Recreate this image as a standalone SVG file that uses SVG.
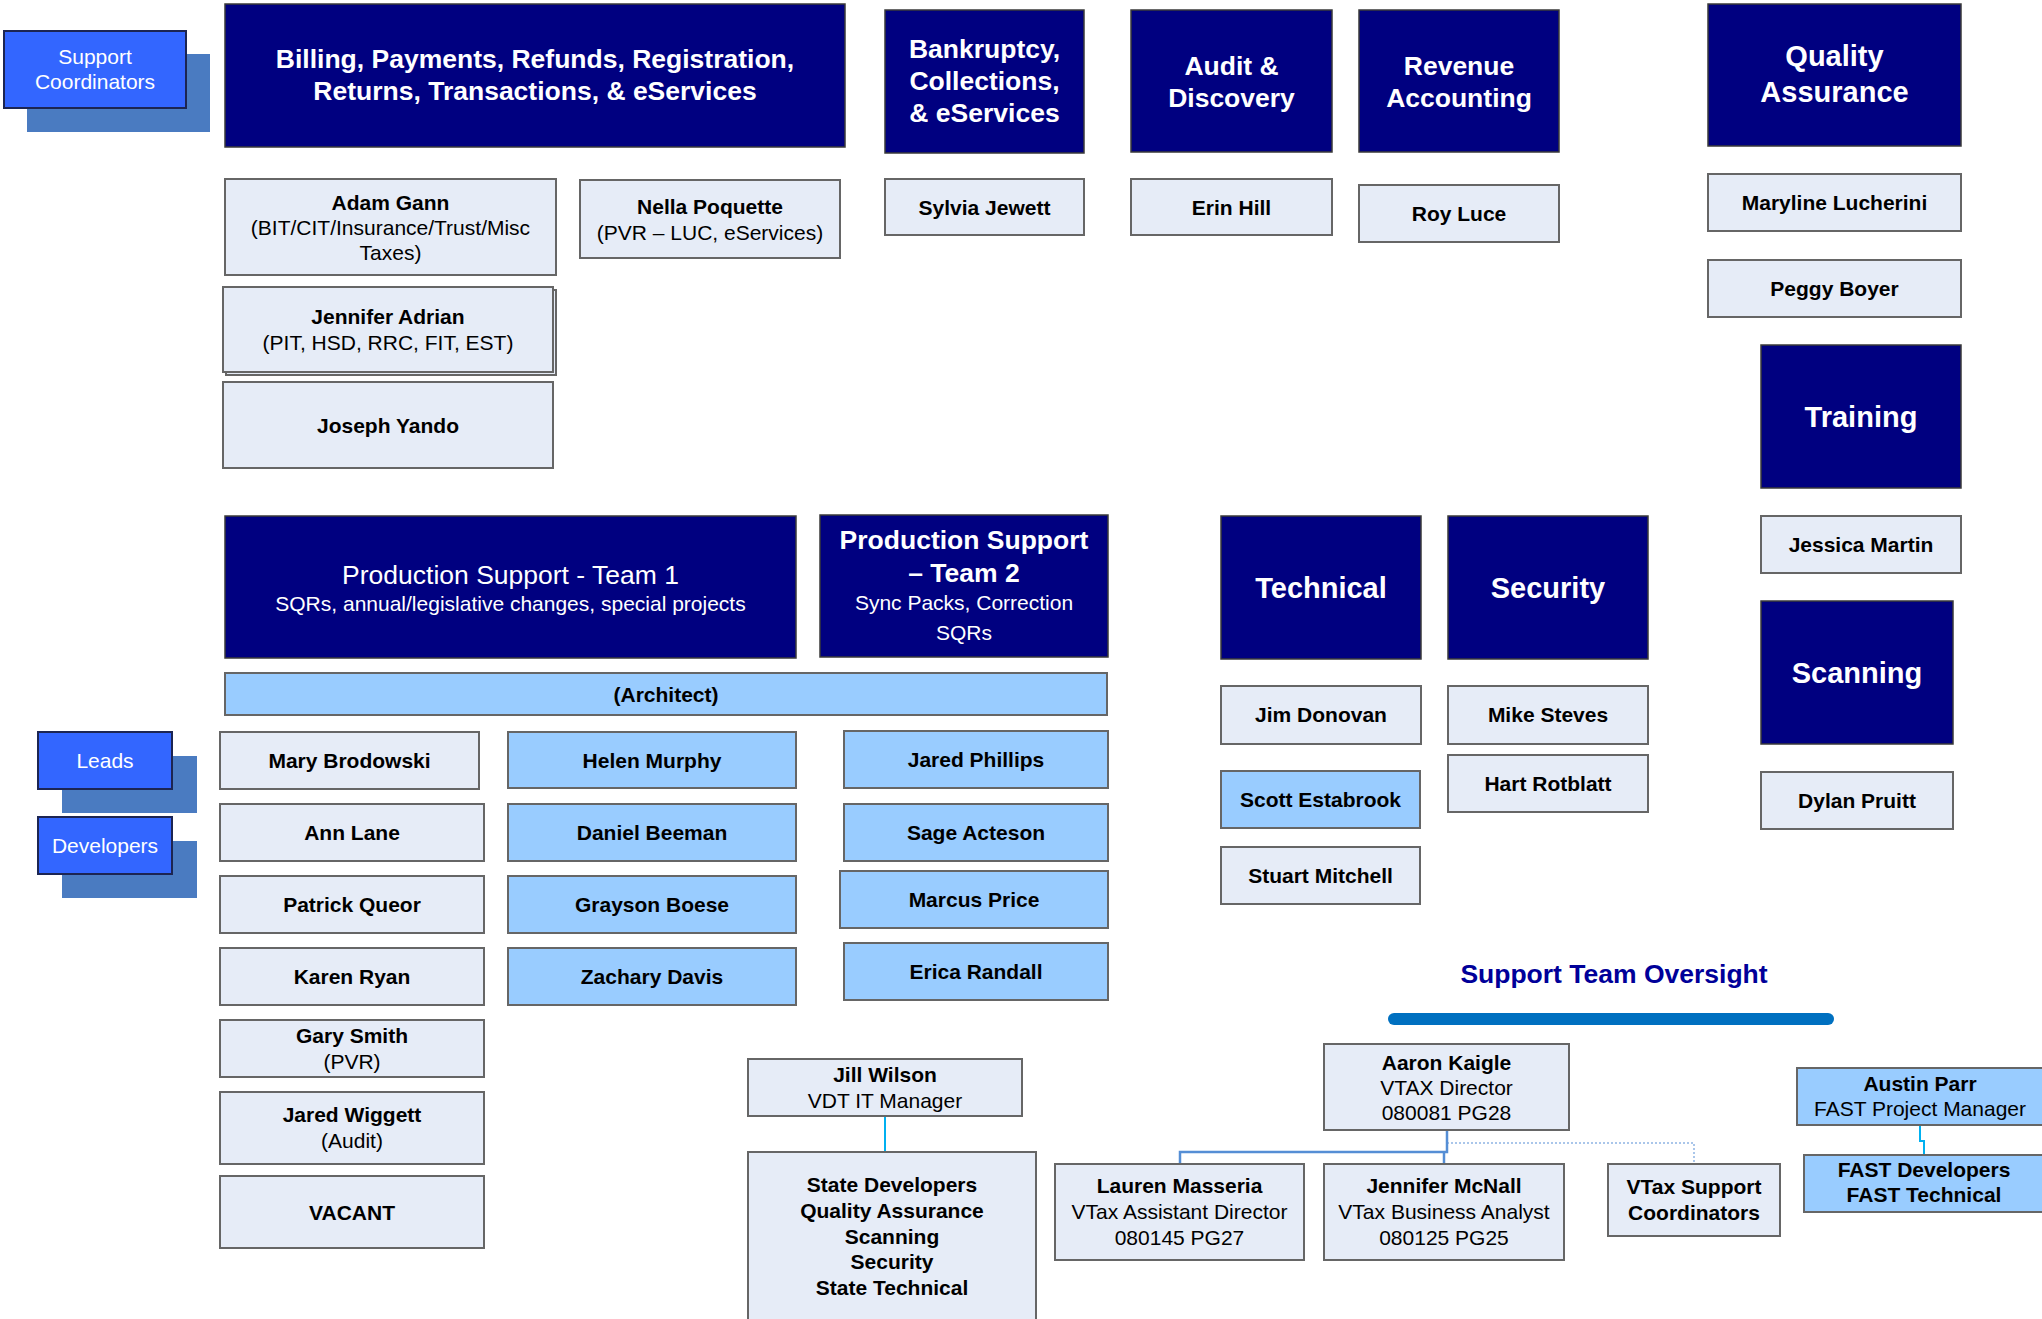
<svg xmlns="http://www.w3.org/2000/svg" width="2042" height="1319" viewBox="0 0 2042 1319">
<style>
.bg{fill:#ffffff}
.navy{fill:#000080;stroke:#3a3a3a;stroke-width:1.5}
.lt{fill:#E6ECF7;stroke:#666;stroke-width:2}
.lb{fill:#99CCFF;stroke:#666;stroke-width:2}
.coord{fill:#3366FF;stroke:#1c2552;stroke-width:2}
.shadow{fill:#4A7BC1}
text{font-family:"Liberation Sans",Arial,sans-serif;text-anchor:middle}
.h{font-size:26.5px;font-weight:bold;fill:#fff}
.h2{font-size:29px;font-weight:bold;fill:#fff}
.hr{font-size:26.5px;fill:#fff}
.w{font-size:21px;fill:#fff}
.n{font-size:21px;font-weight:bold;fill:#000}
.r{font-size:21px;fill:#000}
.title{font-size:26.5px;font-weight:bold;fill:#000099}
.cy{fill:none;stroke:#00B0F0;stroke-width:2}
.md{fill:none;stroke:#558ED5;stroke-width:2.5}
.dt{fill:none;stroke:#8EB4E3;stroke-width:1.5;stroke-dasharray:2 2}
</style>
<rect class="bg" x="0" y="0" width="2042" height="1319"/>

<g id="support-coordinators">
<rect class="shadow" x="27" y="54" width="183" height="78"/>
<rect class="coord" x="4" y="31" width="182" height="77"/>
<text class="w" x="95" y="64">Support</text>
<text class="w" x="95" y="89">Coordinators</text>
</g>

<g id="billing">
<rect class="navy" x="225" y="4" width="620" height="143"/>
<text class="h" x="535" y="67.5">Billing, Payments, Refunds, Registration,</text>
<text class="h" x="535" y="99.5">Returns, Transactions, &amp; eServices</text>
</g>
<g id="bankruptcy">
<rect class="navy" x="885" y="10" width="199" height="143"/>
<text class="h" x="984.5" y="58">Bankruptcy,</text>
<text class="h" x="984.5" y="90">Collections,</text>
<text class="h" x="984.5" y="122">&amp; eServices</text>
</g>
<g id="audit">
<rect class="navy" x="1131" y="10" width="201" height="142"/>
<text class="h" x="1231.5" y="74.5">Audit &amp;</text>
<text class="h" x="1231.5" y="106.5">Discovery</text>
</g>
<g id="revenue">
<rect class="navy" x="1359" y="10" width="200" height="142"/>
<text class="h" x="1459" y="74.5">Revenue</text>
<text class="h" x="1459" y="106.5">Accounting</text>
</g>
<g id="quality">
<rect class="navy" x="1708" y="4" width="253" height="142"/>
<text class="h2" x="1834.5" y="66">Quality</text>
<text class="h2" x="1834.5" y="102">Assurance</text>
</g>

<g id="adam-gann">
<rect class="lt" x="225" y="179" width="331" height="96"/>
<text class="n" x="390.5" y="209.5">Adam Gann</text>
<text class="r" x="390.5" y="234.5">(BIT/CIT/Insurance/Trust/Misc</text>
<text class="r" x="390.5" y="259.5">Taxes)</text>
</g>
<g id="nella-poquette">
<rect class="lt" x="580" y="180" width="260" height="78"/>
<text class="n" x="710" y="213.5">Nella Poquette</text>
<text class="r" x="710" y="239.5">(PVR – LUC, eServices)</text>
</g>
<g id="sylvia-jewett">
<rect class="lt" x="885" y="179" width="199" height="56"/>
<text class="n" x="984.5" y="214.5">Sylvia Jewett</text>
</g>
<g id="erin-hill">
<rect class="lt" x="1131" y="179" width="201" height="56"/>
<text class="n" x="1231.5" y="214.5">Erin Hill</text>
</g>
<g id="roy-luce">
<rect class="lt" x="1359" y="185" width="200" height="57"/>
<text class="n" x="1459" y="221">Roy Luce</text>
</g>
<g id="maryline-lucherini">
<rect class="lt" x="1708" y="174" width="253" height="57"/>
<text class="n" x="1834.5" y="210">Maryline Lucherini</text>
</g>
<g id="peggy-boyer">
<rect class="lt" x="1708" y="260" width="253" height="57"/>
<text class="n" x="1834.5" y="296">Peggy Boyer</text>
</g>
<g id="jennifer-adrian">
<rect class="lt" x="226" y="290" width="330" height="85"/>
<rect class="lt" x="223" y="287" width="330" height="85"/>
<text class="n" x="388" y="323.5">Jennifer Adrian</text>
<text class="r" x="388" y="349.5">(PIT, HSD, RRC, FIT, EST)</text>
</g>
<g id="joseph-yando">
<rect class="lt" x="223" y="382" width="330" height="86"/>
<text class="n" x="388" y="432.5">Joseph Yando</text>
</g>

<g id="training">
<rect class="navy" x="1761" y="345" width="200" height="143"/>
<text class="h2" x="1861" y="426.5">Training</text>
</g>
<g id="jessica-martin">
<rect class="lt" x="1761" y="516" width="200" height="57"/>
<text class="n" x="1861" y="552">Jessica Martin</text>
</g>
<g id="scanning">
<rect class="navy" x="1761" y="601" width="192" height="143"/>
<text class="h2" x="1857" y="682.5">Scanning</text>
</g>
<g id="dylan-pruitt">
<rect class="lt" x="1761" y="772" width="192" height="57"/>
<text class="n" x="1857" y="808">Dylan Pruitt</text>
</g>

<g id="prod-team1">
<rect class="navy" x="225" y="516" width="571" height="142"/>
<text class="hr" x="510.5" y="583.5">Production Support - Team 1</text>
<text class="w" x="510.5" y="610.5">SQRs, annual/legislative changes, special projects</text>
</g>
<g id="prod-team2">
<rect class="navy" x="820" y="515" width="288" height="142"/>
<text class="h" x="964" y="548.5">Production Support</text>
<text class="h" x="964" y="581.5">– Team 2</text>
<text class="w" x="964" y="609.5">Sync Packs, Correction</text>
<text class="w" x="964" y="639.5">SQRs</text>
</g>
<g id="technical">
<rect class="navy" x="1221" y="516" width="200" height="143"/>
<text class="h2" x="1321" y="597.5">Technical</text>
</g>
<g id="security">
<rect class="navy" x="1448" y="516" width="200" height="143"/>
<text class="h2" x="1548" y="597.5">Security</text>
</g>
<g id="architect">
<rect class="lb" x="225" y="673" width="882" height="42"/>
<text class="n" x="666" y="701.5">(Architect)</text>
</g>

<g id="leads">
<rect class="shadow" x="62" y="756" width="135" height="57"/>
<rect class="coord" x="38" y="732" width="134" height="57"/>
<text class="w" x="105" y="768">Leads</text>
</g>
<g id="developers">
<rect class="shadow" x="62" y="841" width="135" height="57"/>
<rect class="coord" x="38" y="817" width="134" height="57"/>
<text class="w" x="105" y="853">Developers</text>
</g>

<g id="mary-brodowski"><rect class="lt" x="220" y="732" width="259" height="57"/><text class="n" x="349.5" y="768">Mary Brodowski</text></g>
<g id="ann-lane"><rect class="lt" x="220" y="804" width="264" height="57"/><text class="n" x="352" y="840">Ann Lane</text></g>
<g id="patrick-queor"><rect class="lt" x="220" y="876" width="264" height="57"/><text class="n" x="352" y="912">Patrick Queor</text></g>
<g id="karen-ryan"><rect class="lt" x="220" y="948" width="264" height="57"/><text class="n" x="352" y="984">Karen Ryan</text></g>
<g id="gary-smith"><rect class="lt" x="220" y="1020" width="264" height="57"/><text class="n" x="352" y="1042.5">Gary Smith</text><text class="r" x="352" y="1068.5">(PVR)</text></g>
<g id="jared-wiggett"><rect class="lt" x="220" y="1092" width="264" height="72"/><text class="n" x="352" y="1121.5">Jared Wiggett</text><text class="r" x="352" y="1147.5">(Audit)</text></g>
<g id="vacant"><rect class="lt" x="220" y="1176" width="264" height="72"/><text class="n" x="352" y="1219.5">VACANT</text></g>

<g id="helen-murphy"><rect class="lb" x="508" y="732" width="288" height="56"/><text class="n" x="652" y="767.5">Helen Murphy</text></g>
<g id="daniel-beeman"><rect class="lb" x="508" y="804" width="288" height="57"/><text class="n" x="652" y="840">Daniel Beeman</text></g>
<g id="grayson-boese"><rect class="lb" x="508" y="876" width="288" height="57"/><text class="n" x="652" y="912">Grayson Boese</text></g>
<g id="zachary-davis"><rect class="lb" x="508" y="948" width="288" height="57"/><text class="n" x="652" y="984">Zachary Davis</text></g>

<g id="jared-phillips"><rect class="lb" x="844" y="731" width="264" height="57"/><text class="n" x="976" y="767">Jared Phillips</text></g>
<g id="sage-acteson"><rect class="lb" x="844" y="804" width="264" height="57"/><text class="n" x="976" y="840">Sage Acteson</text></g>
<g id="marcus-price"><rect class="lb" x="840" y="871" width="268" height="57"/><text class="n" x="974" y="907">Marcus Price</text></g>
<g id="erica-randall"><rect class="lb" x="844" y="943" width="264" height="57"/><text class="n" x="976" y="979">Erica Randall</text></g>

<g id="jim-donovan"><rect class="lt" x="1221" y="686" width="200" height="58"/><text class="n" x="1321" y="722">Jim Donovan</text></g>
<g id="scott-estabrook"><rect class="lb" x="1221" y="771" width="199" height="57"/><text class="n" x="1320.5" y="807">Scott Estabrook</text></g>
<g id="stuart-mitchell"><rect class="lt" x="1221" y="847" width="199" height="57"/><text class="n" x="1320.5" y="883">Stuart Mitchell</text></g>
<g id="mike-steves"><rect class="lt" x="1448" y="686" width="200" height="58"/><text class="n" x="1548" y="722">Mike Steves</text></g>
<g id="hart-rotblatt"><rect class="lt" x="1448" y="755" width="200" height="57"/><text class="n" x="1548" y="791">Hart Rotblatt</text></g>

<g id="oversight-title">
<text class="title" x="1614" y="983">Support Team Oversight</text>
<rect x="1388" y="1013" width="446" height="12" rx="6" fill="#0070C0"/>
</g>

<g id="connectors">
<path class="cy" d="M885 1116 V1152"/>
<path class="dt" d="M1447 1143 H1694 V1164"/>
<path class="md" d="M1447 1130 V1152 H1180 V1164"/>
<path class="md" d="M1444 1152 V1164"/>
<path class="cy" d="M1920 1125 V1141 H1924 V1155"/>
</g>

<g id="jill-wilson">
<rect class="lt" x="748" y="1059" width="274" height="57"/>
<text class="n" x="885" y="1081.5">Jill Wilson</text>
<text class="r" x="885" y="1107.5">VDT IT Manager</text>
</g>
<g id="state-developers">
<rect class="lt" x="748" y="1152" width="288" height="180"/>
<text class="n" x="892" y="1191.5">State Developers</text>
<text class="n" x="892" y="1217.5">Quality Assurance</text>
<text class="n" x="892" y="1243.5">Scanning</text>
<text class="n" x="892" y="1268.5">Security</text>
<text class="n" x="892" y="1294.5">State Technical</text>
</g>
<g id="aaron-kaigle">
<rect class="lt" x="1324" y="1044" width="245" height="86"/>
<text class="n" x="1446.5" y="1069.5">Aaron Kaigle</text>
<text class="r" x="1446.5" y="1094.5">VTAX Director</text>
<text class="r" x="1446.5" y="1119.5">080081 PG28</text>
</g>
<g id="lauren-masseria">
<rect class="lt" x="1055" y="1164" width="249" height="96"/>
<text class="n" x="1179.5" y="1192.5">Lauren Masseria</text>
<text class="r" x="1179.5" y="1218.5">VTax Assistant Director</text>
<text class="r" x="1179.5" y="1244.5">080145 PG27</text>
</g>
<g id="jennifer-mcnall">
<rect class="lt" x="1324" y="1164" width="240" height="96"/>
<text class="n" x="1444" y="1192.5">Jennifer McNall</text>
<text class="r" x="1444" y="1218.5">VTax Business Analyst</text>
<text class="r" x="1444" y="1244.5">080125 PG25</text>
</g>
<g id="vtax-support">
<rect class="lt" x="1608" y="1164" width="172" height="72"/>
<text class="n" x="1694" y="1193.5">VTax Support</text>
<text class="n" x="1694" y="1219.5">Coordinators</text>
</g>
<g id="austin-parr">
<rect class="lb" x="1797" y="1068" width="250" height="57"/>
<text class="n" x="1920" y="1090.5">Austin Parr</text>
<text class="r" x="1920" y="1115.5">FAST Project Manager</text>
</g>
<g id="fast-developers">
<rect class="lb" x="1804" y="1155" width="245" height="57"/>
<text class="n" x="1924" y="1176.5">FAST Developers</text>
<text class="n" x="1924" y="1201.5">FAST Technical</text>
</g>
</svg>
